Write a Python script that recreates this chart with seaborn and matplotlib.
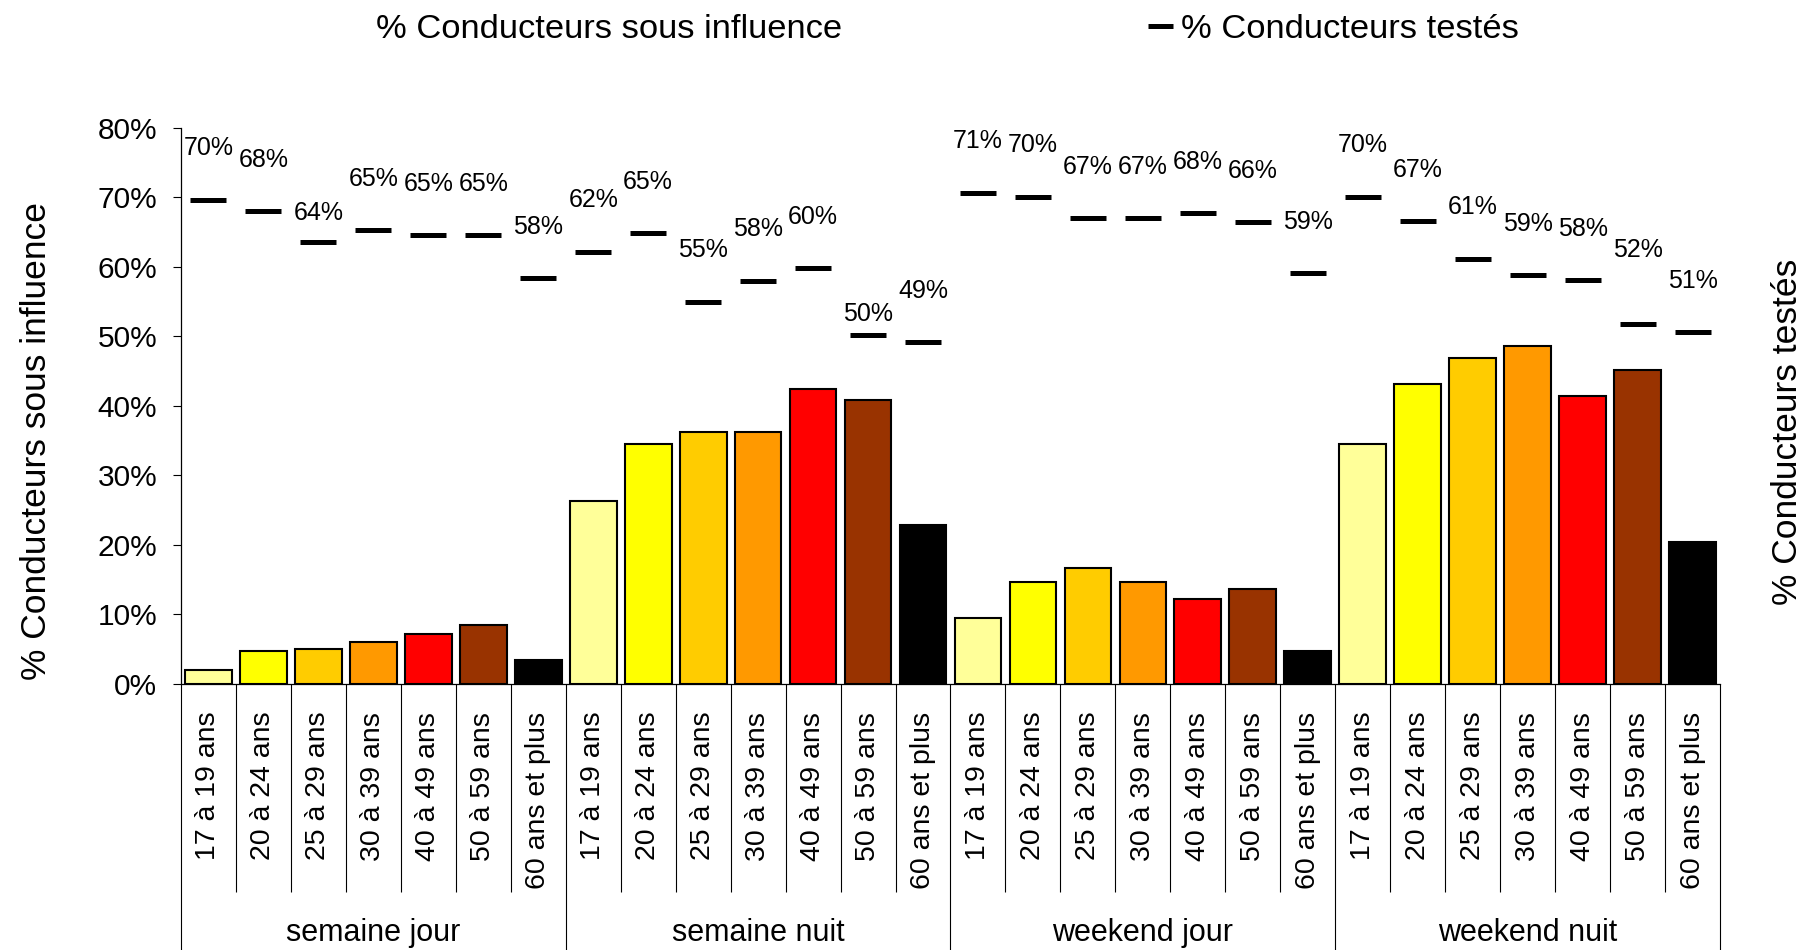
import matplotlib
matplotlib.use("Agg")
import matplotlib.pyplot as plt
from matplotlib.lines import Line2D
from matplotlib.patches import Patch
from matplotlib.ticker import PercentFormatter, MultipleLocator
import seaborn as sns
import pandas as pd

# ---------------- data ----------------
groups = ["semaine jour", "semaine nuit", "weekend jour", "weekend nuit"]
ages = ["17 à 19 ans", "20 à 24 ans", "25 à 29 ans", "30 à 39 ans",
        "40 à 49 ans", "50 à 59 ans", "60 ans et plus"]

# % Conducteurs sous influence (bars)
influence_semaine_jour = [0.020, 0.048, 0.051, 0.061, 0.072, 0.085, 0.035]
influence_semaine_nuit = [0.263, 0.346, 0.363, 0.363, 0.424, 0.408, 0.229]
influence_weekend_jour = [0.095, 0.147, 0.167, 0.147, 0.123, 0.137, 0.048]
influence_weekend_nuit = [0.345, 0.432, 0.469, 0.486, 0.414, 0.452, 0.205]

# % Conducteurs testés (dash markers)
testes_semaine_jour = [0.697, 0.680, 0.636, 0.653, 0.646, 0.646, 0.584]
testes_semaine_nuit = [0.622, 0.649, 0.550, 0.580, 0.598, 0.502, 0.492]
testes_weekend_jour = [0.707, 0.701, 0.670, 0.670, 0.677, 0.664, 0.591]
testes_weekend_nuit = [0.701, 0.666, 0.612, 0.588, 0.581, 0.518, 0.506]

age_colors = ["#FFFF99", "#FFFF00", "#FFCC00", "#FF9900", "#FF0000", "#993300", "#000000"]

# label offsets (points above marker), default and exceptions by position
label_offset_default = 37
label_offset_exceptions = {2: 21, 12: 15, 26: 53}

# ---------------- table ----------------
influence = (influence_semaine_jour + influence_semaine_nuit +
             influence_weekend_jour + influence_weekend_nuit)
testes = (testes_semaine_jour + testes_semaine_nuit +
          testes_weekend_jour + testes_weekend_nuit)
n_age = len(ages)
rows = []
for gi, g in enumerate(groups):
    for ai, a in enumerate(ages):
        k = gi * n_age + ai
        rows.append({"pos": k, "groupe": g, "age": a,
                     "influence": influence[k], "testes": testes[k]})
df = pd.DataFrame(rows)
n = len(df)

# ---------------- style ----------------
sns.set_theme(style="white")
plt.rcParams["font.family"] = ["Liberation Sans", "DejaVu Sans"]
plt.rcParams["text.color"] = "black"

fig = plt.figure(figsize=(18.06, 9.5), dpi=100)
ax = fig.add_axes([0.1002, 0.28, 0.8522, 0.5853])

palette = [age_colors[i % n_age] for i in range(n)]
sns.barplot(data=df, x="pos", y="influence", hue="pos", palette=palette,
            legend=False, width=0.85, edgecolor="black", linewidth=1.5,
            saturation=1, ax=ax)

ax.set_xlim(-0.5, n - 0.5)
ax.set_ylim(0, 0.8)
ax.yaxis.set_major_locator(MultipleLocator(0.1))
ax.yaxis.set_major_formatter(PercentFormatter(1.0, decimals=0))
ax.tick_params(axis="y", direction="out", length=6, width=0.8, colors="black",
               labelsize=21.5, pad=11, left=True)
ax.set_xticks(range(n))
ax.set_xticklabels(df["age"], rotation=90, fontsize=20.5)
ax.tick_params(axis="x", length=0, pad=20, colors="black")
for side in ["top", "right"]:
    ax.spines[side].set_visible(False)
for side in ["left", "bottom"]:
    ax.spines[side].set_color("black")
    ax.spines[side].set_linewidth(0.9)
ax.set_xlabel("")
ax.set_ylabel("% Conducteurs sous influence", fontsize=25.5, color="black")
ax.yaxis.set_label_coords(-0.094, 0.437)
ax.yaxis.label.set_va("center")

# separators of the multi-level category axis
trans = ax.get_xaxis_transform()
cat_bounds = [i - 0.5 for i in range(n + 1) if i % n_age != 0]
grp_bounds = [i - 0.5 for i in range(0, n + 1, n_age)]
ax.vlines(cat_bounds, -0.374, 0, transform=trans, clip_on=False,
          colors="black", linewidth=0.8)
ax.vlines(grp_bounds, -0.48, 0, transform=trans, clip_on=False,
          colors="black", linewidth=0.8)
for gi, g in enumerate(groups):
    ax.text(gi * n_age + (n_age - 1) / 2, -0.448, g, transform=trans,
            ha="center", va="center", fontsize=22, color="black")

# secondary axis with the tested %
ax2 = ax.twinx()
ax2.set_ylim(ax.get_ylim())
ax2.plot(df["pos"], df["testes"], linestyle="none", marker="_",
         markersize=26, markeredgewidth=3.6, color="black")
ax2.set_yticks([])
for s in ax2.spines.values():
    s.set_visible(False)
ax2.set_ylabel("% Conducteurs testés", fontsize=25.5, color="black", rotation=90)
ax2.yaxis.set_label_coords(1.044, 0.453)
ax2.yaxis.label.set_va("center")

for k, v in zip(df["pos"], df["testes"]):
    off = label_offset_exceptions.get(k, label_offset_default)
    ax2.annotate(f"{v * 100:.0f}%", xy=(k, v), xytext=(0, off),
                 textcoords="offset points", ha="center", va="center",
                 fontsize=18, color="black")

# legend
handles = [Patch(facecolor="none", edgecolor="none"),
           Line2D([], [], color="black", linewidth=3.6, solid_capstyle="butt")]
labels = ["% Conducteurs sous influence", "% Conducteurs testés"]
fig.legend(handles, labels, loc="center", bbox_to_anchor=(0.5155, 0.969),
           ncol=2, frameon=False, fontsize=24.8, handlelength=0.7,
           handletextpad=0.26, columnspacing=8.9, borderpad=0, borderaxespad=0)

fig.savefig("out.png", dpi=100)
